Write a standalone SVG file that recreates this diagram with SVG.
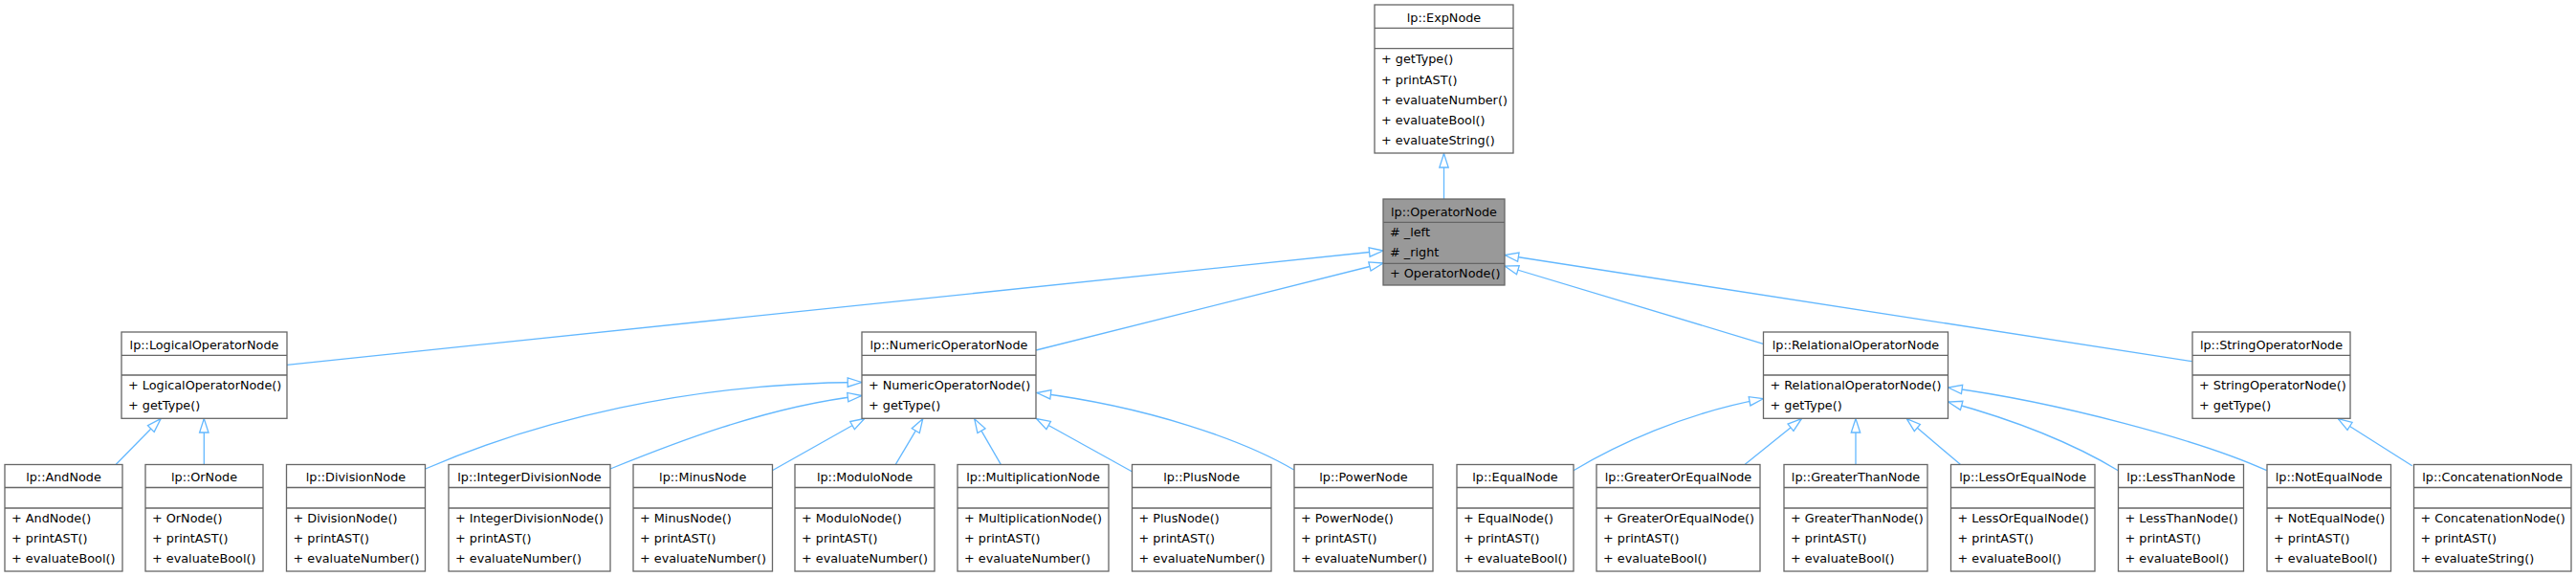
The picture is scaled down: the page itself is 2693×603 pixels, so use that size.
<svg xmlns="http://www.w3.org/2000/svg" width="2693" height="603" viewBox="0 0 2693 603">
<style>
.node rect{fill:#fff;stroke:#666;stroke-width:1.3}
.node path{fill:none;stroke:#666;stroke-width:1.3}
#n_OperatorNode rect{fill:#999}
text{font-family:"DejaVu Sans","Liberation Sans",sans-serif;font-size:12.8px;fill:#000}
.t{text-anchor:middle}
#edges path{fill:none;stroke:#63b8ff;stroke-width:1.3;marker-end:url(#ah)}
</style>
<defs>
<marker id="ah" markerUnits="userSpaceOnUse" markerWidth="20" markerHeight="14" viewBox="-16 -7 18 14" refX="0" refY="0" orient="auto" overflow="visible">
<path d="M0,0 L-14.5,-4.7 L-14.5,4.7 Z" fill="#fff" stroke="#63b8ff" stroke-width="1.3"/>
</marker>
</defs>
<rect width="2693" height="603" fill="#fff"/>
<g id="edges">
<path d="M1509.5,208 L1509.5,160.5"/>
<path d="M300,381.3 L1446,262"/>
<path d="M1083,366 L1446,275"/>
<path d="M1843.3,359.3 L1573,278"/>
<path d="M2291.7,377.7 L1573,266.5"/>
<path d="M121.3,485.3 L168,437.7"/>
<path d="M213.3,485.3 L213.3,437.5"/>
<path d="M444.7,490 C560,440 720,400 900.7,399.5"/>
<path d="M638,490 C700,465 800,425 900.7,413.5"/>
<path d="M807.3,491.7 L903.7,437.5"/>
<path d="M936.3,485.3 L964.7,437.7"/>
<path d="M1046.3,485.3 L1018.7,437.7"/>
<path d="M1183.3,492.7 L1083.5,437.5"/>
<path d="M1352.7,491 C1300,460 1200,425 1084,410.5"/>
<path d="M1645,491.7 C1690,465 1760,432 1843.3,416.7"/>
<path d="M1824.3,485.3 L1883.3,437.7"/>
<path d="M1940,485.3 L1940,437.5"/>
<path d="M2049.3,485.3 L1993.3,437.7"/>
<path d="M2214.3,491.7 C2170,465 2110,440 2036.7,420"/>
<path d="M2369.7,491.7 C2300,460 2150,420 2036.7,405"/>
<path d="M2521.7,486.7 L2444.3,437.7"/>
</g>
<g id="n_ExpNode" class="node">
<rect x="1437" y="5" width="145" height="155"/>
<path d="M1437,29.3H1582M1437,50.7H1582"/>
<text class="t" x="1509.5" y="22.7">lp::ExpNode</text>
<text x="1444" y="66.3">+ getType()</text>
<text x="1444" y="87.5">+ printAST()</text>
<text x="1444" y="108.7">+ evaluateNumber()</text>
<text x="1444" y="129.9">+ evaluateBool()</text>
<text x="1444" y="151.1">+ evaluateString()</text>
</g>
<g id="n_OperatorNode" class="node">
<rect x="1446" y="208" width="127" height="90"/>
<path d="M1446,232.3H1573M1446,275.3H1573"/>
<text class="t" x="1509.5" y="225.8">lp::OperatorNode</text>
<text x="1453" y="247">#  _left</text>
<text x="1453" y="268.2">#  _right</text>
<text x="1453" y="290.2">+ OperatorNode()</text>
</g>
<g id="n_LogicalOperatorNode" class="node">
<rect x="127" y="347" width="173" height="90.3"/>
<path d="M127,371.3H300M127,392H300"/>
<text class="t" x="213.5" y="364.8">lp::LogicalOperatorNode</text>
<text x="134" y="407">+ LogicalOperatorNode()</text>
<text x="134" y="428.3">+ getType()</text>
</g>
<g id="n_NumericOperatorNode" class="node">
<rect x="901" y="347" width="182" height="90.3"/>
<path d="M901,371.3H1083M901,392H1083"/>
<text class="t" x="992" y="364.8">lp::NumericOperatorNode</text>
<text x="908" y="407">+ NumericOperatorNode()</text>
<text x="908" y="428.3">+ getType()</text>
</g>
<g id="n_RelationalOperatorNode" class="node">
<rect x="1843.5" y="347" width="193" height="90.3"/>
<path d="M1843.5,371.3H2036.5M1843.5,392H2036.5"/>
<text class="t" x="1940" y="364.8">lp::RelationalOperatorNode</text>
<text x="1850.5" y="407">+ RelationalOperatorNode()</text>
<text x="1850.5" y="428.3">+ getType()</text>
</g>
<g id="n_StringOperatorNode" class="node">
<rect x="2292" y="347" width="165" height="90.3"/>
<path d="M2292,371.3H2457M2292,392H2457"/>
<text class="t" x="2374.5" y="364.8">lp::StringOperatorNode</text>
<text x="2299" y="407">+ StringOperatorNode()</text>
<text x="2299" y="428.3">+ getType()</text>
</g>
<g id="n_AndNode" class="node">
<rect x="5" y="485.5" width="123" height="111.5"/>
<path d="M5,509.5H128M5,531H128"/>
<text class="t" x="66.5" y="503">lp::AndNode</text>
<text x="12" y="545.8">+ AndNode()</text>
<text x="12" y="567.1">+ printAST()</text>
<text x="12" y="588.4">+ evaluateBool()</text>
</g>
<g id="n_OrNode" class="node">
<rect x="152" y="485.5" width="123" height="111.5"/>
<path d="M152,509.5H275M152,531H275"/>
<text class="t" x="213.5" y="503">lp::OrNode</text>
<text x="159" y="545.8">+ OrNode()</text>
<text x="159" y="567.1">+ printAST()</text>
<text x="159" y="588.4">+ evaluateBool()</text>
</g>
<g id="n_DivisionNode" class="node">
<rect x="299.5" y="485.5" width="145" height="111.5"/>
<path d="M299.5,509.5H444.5M299.5,531H444.5"/>
<text class="t" x="372" y="503">lp::DivisionNode</text>
<text x="306.5" y="545.8">+ DivisionNode()</text>
<text x="306.5" y="567.1">+ printAST()</text>
<text x="306.5" y="588.4">+ evaluateNumber()</text>
</g>
<g id="n_IntegerDivisionNode" class="node">
<rect x="469" y="485.5" width="169" height="111.5"/>
<path d="M469,509.5H638M469,531H638"/>
<text class="t" x="553.5" y="503">lp::IntegerDivisionNode</text>
<text x="476" y="545.8">+ IntegerDivisionNode()</text>
<text x="476" y="567.1">+ printAST()</text>
<text x="476" y="588.4">+ evaluateNumber()</text>
</g>
<g id="n_MinusNode" class="node">
<rect x="662" y="485.5" width="145.5" height="111.5"/>
<path d="M662,509.5H807.5M662,531H807.5"/>
<text class="t" x="734.7" y="503">lp::MinusNode</text>
<text x="669" y="545.8">+ MinusNode()</text>
<text x="669" y="567.1">+ printAST()</text>
<text x="669" y="588.4">+ evaluateNumber()</text>
</g>
<g id="n_ModuloNode" class="node">
<rect x="831" y="485.5" width="146" height="111.5"/>
<path d="M831,509.5H977M831,531H977"/>
<text class="t" x="904" y="503">lp::ModuloNode</text>
<text x="838" y="545.8">+ ModuloNode()</text>
<text x="838" y="567.1">+ printAST()</text>
<text x="838" y="588.4">+ evaluateNumber()</text>
</g>
<g id="n_MultiplicationNode" class="node">
<rect x="1001" y="485.5" width="158" height="111.5"/>
<path d="M1001,509.5H1159M1001,531H1159"/>
<text class="t" x="1080" y="503">lp::MultiplicationNode</text>
<text x="1008" y="545.8">+ MultiplicationNode()</text>
<text x="1008" y="567.1">+ printAST()</text>
<text x="1008" y="588.4">+ evaluateNumber()</text>
</g>
<g id="n_PlusNode" class="node">
<rect x="1183.5" y="485.5" width="145.5" height="111.5"/>
<path d="M1183.5,509.5H1329M1183.5,531H1329"/>
<text class="t" x="1256.2" y="503">lp::PlusNode</text>
<text x="1190.5" y="545.8">+ PlusNode()</text>
<text x="1190.5" y="567.1">+ printAST()</text>
<text x="1190.5" y="588.4">+ evaluateNumber()</text>
</g>
<g id="n_PowerNode" class="node">
<rect x="1353" y="485.5" width="145" height="111.5"/>
<path d="M1353,509.5H1498M1353,531H1498"/>
<text class="t" x="1425.5" y="503">lp::PowerNode</text>
<text x="1360" y="545.8">+ PowerNode()</text>
<text x="1360" y="567.1">+ printAST()</text>
<text x="1360" y="588.4">+ evaluateNumber()</text>
</g>
<g id="n_EqualNode" class="node">
<rect x="1523" y="485.5" width="122" height="111.5"/>
<path d="M1523,509.5H1645M1523,531H1645"/>
<text class="t" x="1584" y="503">lp::EqualNode</text>
<text x="1530" y="545.8">+ EqualNode()</text>
<text x="1530" y="567.1">+ printAST()</text>
<text x="1530" y="588.4">+ evaluateBool()</text>
</g>
<g id="n_GreaterOrEqualNode" class="node">
<rect x="1669" y="485.5" width="171" height="111.5"/>
<path d="M1669,509.5H1840M1669,531H1840"/>
<text class="t" x="1754.5" y="503">lp::GreaterOrEqualNode</text>
<text x="1676" y="545.8">+ GreaterOrEqualNode()</text>
<text x="1676" y="567.1">+ printAST()</text>
<text x="1676" y="588.4">+ evaluateBool()</text>
</g>
<g id="n_GreaterThanNode" class="node">
<rect x="1865" y="485.5" width="150" height="111.5"/>
<path d="M1865,509.5H2015M1865,531H2015"/>
<text class="t" x="1940" y="503">lp::GreaterThanNode</text>
<text x="1872" y="545.8">+ GreaterThanNode()</text>
<text x="1872" y="567.1">+ printAST()</text>
<text x="1872" y="588.4">+ evaluateBool()</text>
</g>
<g id="n_LessOrEqualNode" class="node">
<rect x="2039.5" y="485.5" width="150.5" height="111.5"/>
<path d="M2039.5,509.5H2190M2039.5,531H2190"/>
<text class="t" x="2114.7" y="503">lp::LessOrEqualNode</text>
<text x="2046.5" y="545.8">+ LessOrEqualNode()</text>
<text x="2046.5" y="567.1">+ printAST()</text>
<text x="2046.5" y="588.4">+ evaluateBool()</text>
</g>
<g id="n_LessThanNode" class="node">
<rect x="2214.5" y="485.5" width="131" height="111.5"/>
<path d="M2214.5,509.5H2345.5M2214.5,531H2345.5"/>
<text class="t" x="2280" y="503">lp::LessThanNode</text>
<text x="2221.5" y="545.8">+ LessThanNode()</text>
<text x="2221.5" y="567.1">+ printAST()</text>
<text x="2221.5" y="588.4">+ evaluateBool()</text>
</g>
<g id="n_NotEqualNode" class="node">
<rect x="2370" y="485.5" width="129.5" height="111.5"/>
<path d="M2370,509.5H2499.5M2370,531H2499.5"/>
<text class="t" x="2434.7" y="503">lp::NotEqualNode</text>
<text x="2377" y="545.8">+ NotEqualNode()</text>
<text x="2377" y="567.1">+ printAST()</text>
<text x="2377" y="588.4">+ evaluateBool()</text>
</g>
<g id="n_ConcatenationNode" class="node">
<rect x="2523.5" y="485.5" width="164.5" height="111.5"/>
<path d="M2523.5,509.5H2688M2523.5,531H2688"/>
<text class="t" x="2605.7" y="503">lp::ConcatenationNode</text>
<text x="2530.5" y="545.8">+ ConcatenationNode()</text>
<text x="2530.5" y="567.1">+ printAST()</text>
<text x="2530.5" y="588.4">+ evaluateString()</text>
</g>
</svg>
